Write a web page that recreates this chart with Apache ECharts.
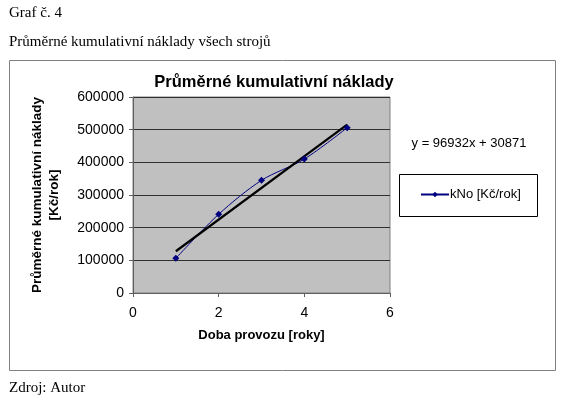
<!DOCTYPE html>
<html>
<head>
<meta charset="utf-8">
<script src="https://cdn.jsdelivr.net/npm/echarts@6/dist/echarts.min.js"></script>
<style>html,body{margin:0;padding:0;background:#fff}#c{width:571px;height:408px}</style>
</head>
<body>
<div id="c"></div>
<script>
var years = [1, 2, 3, 4, 5];
var costs = [106000, 241000, 345000, 410000, 506000];
var trendCoef = [96932, 30871]; // slope, intercept
var xTicks = [0, 2, 4, 6];
var yTicks = [0, 100000, 200000, 300000, 400000, 500000, 600000];

var dataPts = years.map(function (x, i) { return [x, costs[i]]; });
var tStart = years[0], tEnd = years[years.length - 1];
var trendPts = [[tStart, trendCoef[0] * tStart + trendCoef[1]], [tEnd, trendCoef[0] * tEnd + trendCoef[1]]];
var eqText = 'y = ' + trendCoef[0] + 'x + ' + trendCoef[1];

var chart = echarts.init(document.getElementById('c'));
var serif = '"Liberation Serif", "Times New Roman", serif';
var sans = '"Liberation Sans", Arial, sans-serif';
chart.setOption({
  animation: false,
  grid: { left: 133, right: 181, top: 97, bottom: 115, show: true, backgroundColor: '#C0C0C0', borderColor: '#808080', borderWidth: 1 },
  xAxis: {
    type: 'value', min: xTicks[0], max: xTicks[xTicks.length - 1], interval: 2,
    name: 'Doba provozu [roky]', nameLocation: 'middle', nameGap: 36,
    nameTextStyle: { fontFamily: sans, fontSize: 13, fontWeight: 'bold', color: '#000' },
    axisLine: { lineStyle: { color: '#606060' } },
    axisTick: { show: true, length: 4, lineStyle: { color: '#606060' } },
    axisLabel: { fontFamily: sans, fontSize: 14, color: '#000', margin: 13 },
    splitLine: { show: false }
  },
  yAxis: {
    type: 'value', min: yTicks[0], max: yTicks[yTicks.length - 1], interval: 100000,
    name: 'Průměrné kumulativní náklady\n[Kč/rok]', nameLocation: 'middle', nameGap: 70, nameRotate: 90,
    nameTextStyle: { fontFamily: sans, fontSize: 13.5, fontWeight: 'bold', color: '#000', lineHeight: 17 },
    axisLine: { show: true, lineStyle: { color: '#606060' } },
    axisTick: { show: true, length: 4, lineStyle: { color: '#606060' } },
    axisLabel: { fontFamily: sans, fontSize: 14, color: '#000', margin: 9, formatter: function (v) { return String(v); } },
    splitLine: { show: true, lineStyle: { color: '#303030', width: 1 } }
  },
  legend: {
    show: true, left: 415, top: 183, itemWidth: 28, itemHeight: 7, itemGap: 4,
    data: [{ name: 'kNo [Kč/rok]' }],
    textStyle: { fontFamily: sans, fontSize: 13, color: '#000', padding: [0, 0, 0, -4] }
  },
  series: [
    {
      name: 'kNo [Kč/rok]', type: 'line', data: dataPts, smooth: 0.3,
      symbol: 'diamond', symbolSize: 7,
      lineStyle: { color: '#000080', width: 1 },
      itemStyle: { color: '#000080' }
    },
    {
      name: 'trend', type: 'line', data: trendPts, symbol: 'none',
      lineStyle: { color: '#000', width: 2.2 }, z: 3
    }
  ],
  graphic: [
    { type: 'rect', shape: { x: 9.5, y: 60.5, width: 546, height: 310 }, style: { fill: 'none', stroke: '#808080', lineWidth: 1 }, z: -10 },
    { type: 'rect', shape: { x: 399.5, y: 174.5, width: 138, height: 42 }, style: { fill: '#fff', stroke: '#000', lineWidth: 1 }, z: -5 },
    { type: 'text', left: 9, top: 6, style: { text: 'Graf č. 4', font: '15px ' + serif, fill: '#000' } },
    { type: 'text', left: 9, top: 35, style: { text: 'Průměrné kumulativní náklady všech strojů', font: '15px ' + serif, fill: '#000' } },
    { type: 'text', left: 9, top: 381, style: { text: 'Zdroj: Autor', font: '15px ' + serif, fill: '#000' } },
    { type: 'text', x: 274, y: 82, style: { text: 'Průměrné kumulativní náklady', font: 'bold 16.5px ' + sans, fill: '#000', align: 'center', verticalAlign: 'middle' } },
    { type: 'text', x: 469, y: 143, style: { text: eqText, font: '13px ' + sans, fill: '#000', align: 'center', verticalAlign: 'middle' } }
  ]
});
</script>
</body>
</html>
